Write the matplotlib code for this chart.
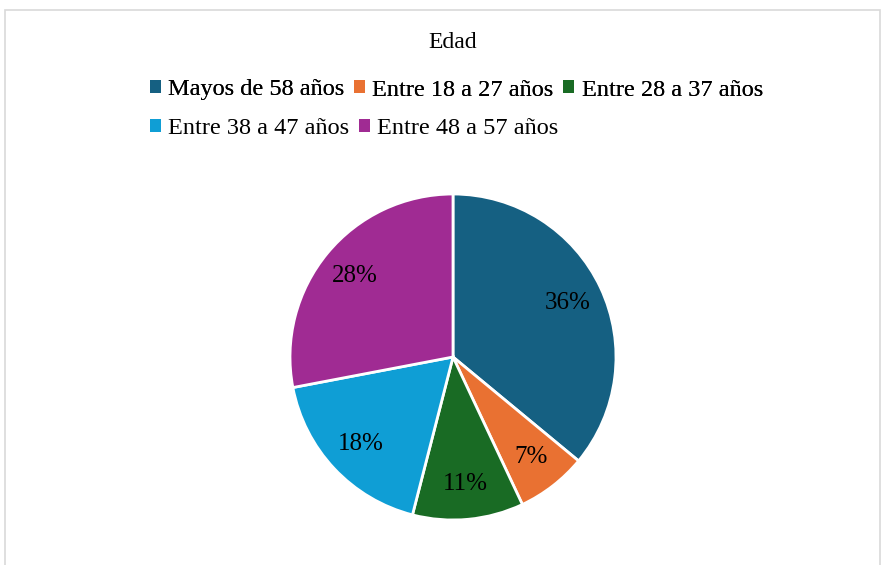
import matplotlib.pyplot as plt
from matplotlib.patches import Rectangle, Patch

plt.rcParams['font.family'] = ['Liberation Serif', 'DejaVu Serif']

# Data
labels = ["Mayos de 58 años", "Entre 18 a 27 años", "Entre 28 a 37 años",
          "Entre 38 a 47 años", "Entre 48 a 57 años"]
values = [36, 7, 11, 18, 28]
colors = ["#156082", "#E97132", "#196B24", "#0F9ED5", "#A02B93"]

W, H = 886, 565
fig = plt.figure(figsize=(W / 100, H / 100), dpi=100)

# light grey chart border
fig.patches.append(Rectangle((5 / W, -0.1), 875 / W, 1.1 - 10 / H,
                             transform=fig.transFigure, fill=False,
                             edgecolor="#d9d9d9", linewidth=1.2))

# pie axes: center (453, 357), radius ~163 px
r = 163
ax = fig.add_axes([(453 - r) / W, (H - 357 - r) / H, 2 * r / W, 2 * r / H])
wedges, texts, autotexts = ax.pie(
    values, colors=colors, startangle=90, counterclock=False,
    autopct=lambda p: f"{p:.0f}%", pctdistance=0.78, radius=1.0,
    wedgeprops=dict(edgecolor="white", linewidth=2),
    textprops=dict(fontsize=18, color="black"))
ax.set_xlim(-1, 1)
ax.set_ylim(-1, 1)
ax.set_aspect("equal")

fig.text(453 / W, 1 - 43 / H, "Edad", ha="center", va="center", fontsize=17)

handles = [Patch(facecolor=c) for c in colors]
kw = dict(frameon=False, fontsize=17.5, handlelength=0.45, handleheight=0.45,
          handletextpad=0.3, columnspacing=0.4, borderpad=0, borderaxespad=0)
leg1 = fig.legend(handles[:3], labels[:3], ncol=3, loc="center left",
                  bbox_to_anchor=(150 / W, 1 - 90 / H), **kw)
fig.add_artist(leg1)
fig.legend(handles[3:], labels[3:], ncol=2, loc="center left",
           bbox_to_anchor=(150 / W, 1 - 129 / H), **kw)

fig.savefig("out.png", dpi=100)
